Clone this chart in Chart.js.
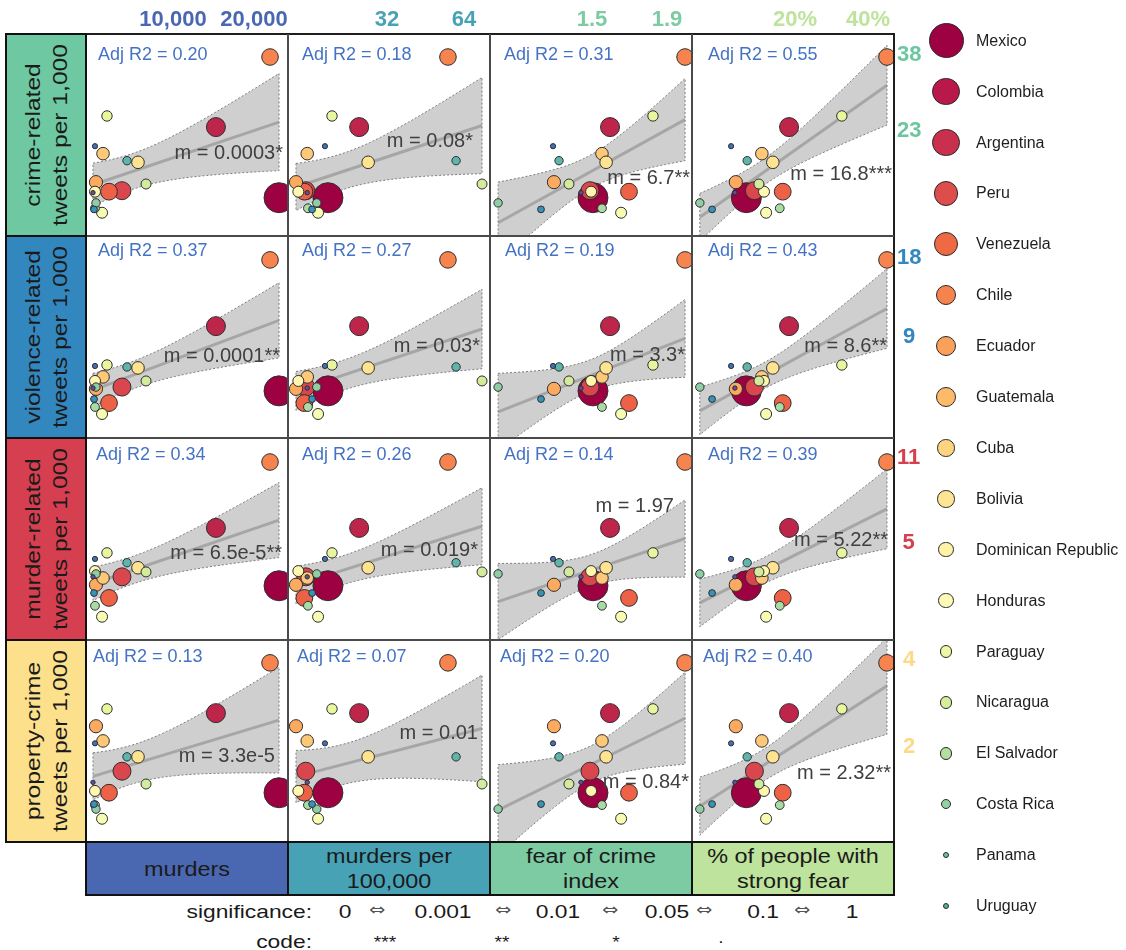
<!DOCTYPE html>
<html lang="en">
<head>
<meta charset="utf-8">
<title>Crime-related tweets and crime indicators in Latin America</title>
<script src="https://cdn.jsdelivr.net/npm/chart.js@4.4.1/dist/chart.umd.min.js"></script>
<style>
  html, body { margin: 0; padding: 0; background: #fff; }
  #fig { position: relative; width: 1126px; height: 950px; overflow: hidden;
         font-family: "Liberation Sans", Arial, Helvetica, sans-serif; color: #1a1a1a; }
  #fig canvas { position: absolute; }
  #fig div { position: absolute; box-sizing: border-box; white-space: nowrap; }
</style>
</head>
<body>
<div id="fig"></div>
<script>
// ---- data: one entry per country ----
const countries = ["Mexico", "Colombia", "Argentina", "Peru", "Venezuela", "Chile", "Ecuador",
  "Guatemala", "Cuba", "Bolivia", "Dominican Republic", "Honduras", "Paraguay", "Nicaragua",
  "El Salvador", "Costa Rica", "Panama", "Uruguay"];

// predictors (columns)
const murders        = [23090, 15300, 3700, 2100, 21980, 490, 1360, 5680, 370, 1240, 1850, 6670, 370, 490, 4320, 250, 370, 120];
const murdersPer100k = [18.8, 24.9, 15.4, 15.2, 55.4, 14.1, 15.6, 27.0, 14.4, 17.2, 19.5, 75.3, 15.7, 17.0, 59.6, 16.3, 18.3, 15.6];
const fearIndex      = [1.505, 1.596, 1.489, 1.697, 1.996, 1.297, 1.553, 1.575, 1.495, 1.655, 1.825, 1.377, 1.553, 0.999, 1.324, 1.228, 1.292, 1.441];
const strongFearPct  = [12.6, 18.9, 13.6, 17.8, 47.9, 11.4, 14.6, 16.2, 14.9, 15.2, 31.2, 14.2, 17.3, 8.1, 12.7, 9.1, 10.9, 11.3];

// responses (rows), tweets per 1,000
const crimeTweets    = [14.8, 23.6, 15.5, 15.4, 37.5, 16.4, 19.8, 18.7, 15.4, 13.4, 25.4, 16.2, 13.8, 14.3, 18.9, 13.7, 20.8, 15.3];
const violenceTweets = [5.61, 9.9, 5.80, 5.04, 17.7, 5.71, 6.34, 6.86, 6.12, 4.58, 7.04, 6.12, 4.87, 5.80, 6.92, 5.22, 6.98, 5.75];
const murderTweets   = [3.36, 5.75, 3.65, 3.00, 10.6, 3.39, 3.61, 3.97, 3.85, 2.52, 4.56, 3.82, 2.79, 3.75, 4.16, 3.14, 4.31, 3.65];
const propertyTweets = [1.39, 2.62, 1.65, 1.39, 3.91, 2.36, 2.10, 1.85, 1.41, 1.13, 2.71, 1.49, 1.26, 1.22, 1.85, 1.27, 2.06, 1.51];

// model summaries printed in each panel [row][col]
const adjR2 = [["0.20", "0.18", "0.31", "0.55"],
               ["0.37", "0.27", "0.19", "0.43"],
               ["0.34", "0.26", "0.14", "0.39"],
               ["0.13", "0.07", "0.20", "0.40"]];
const slopes = [["0.0003*", "0.08*", "6.7**", "16.8***"],
                ["0.0001**", "0.03*", "3.3*", "8.6**"],
                ["6.5e-5**", "0.019*", "1.97", "5.22**"],
                ["3.3e-5", "0.01", "0.84*", "2.32**"]];

// axis ticks
const colTicks = [[10000, 20000], [32, 64], [1.5, 1.9], [20, 40]];
const colTickLabels = [["10,000", "20,000"], ["32", "64"], ["1.5", "1.9"], ["20%", "40%"]];
const rowTicks = [[23, 38], [9, 18], [5, 11], [2, 4]];
const rowTickLabels = [["23", "38"], ["9", "18"], ["5", "11"], ["2", "4"]];

const predictorNames = [["murders"], ["murders per", "100,000"], ["fear of crime", "index"], ["% of people with", "strong fear"]];
const responseNames = [["crime-related", "tweets per 1,000"], ["violence-related", "tweets per 1,000"],
                       ["murder-related", "tweets per 1,000"], ["property-crime", "tweets per 1,000"]];

const sigLevels = ["0", "⇔", "0.001", "⇔", "0.01", "⇔", "0.05", "⇔", "0.1", "⇔", "1"];
const sigCodes = ["***", "**", "*", "."];

// ---- styles ----
const pointColors = ["#9e0142", "#be254a", "#da464d", "#ed6246", "#f7844e", "#fcaa5f", "#fdc877", "#fee491",
  "#fff6af", "#f8fcb3", "#e9f69e", "#d4eb9e", "#a9dca4", "#8fcda5", "#5eb5ab", "#3892b9", "#4470b2", "#5e4fa2"];
const pointRadii = [15, 9.5, 9, 8.4, 8.3, 6.6, 6.3, 6.3, 5.5, 5.5, 5.2, 5, 4.4, 4.2, 4.2, 3.4, 2.6, 2.2];
const legendColors = ["#9e0142", "#b8194a", "#c9304d", "#dc4d4c", "#ee6a45", "#f6834d", "#faa05a", "#fdba69",
  "#fed480", "#fee593", "#fff3a8", "#fcfab6", "#eef7a5", "#d6ee9b", "#b4df9f", "#90d2a1", "#6dc3a4", "#54b19f"];
const legendRadii = [17.5, 13.8, 13.7, 12.2, 12.2, 10, 10, 10, 8.8, 8.8, 7.8, 7.8, 6.3, 6.3, 6.3, 5, 3.4, 3.4];

const colColors = ["#4a68b1", "#48a2b6", "#7dcba2", "#bee39c"];
const rowColors = ["#6ec8a1", "#3387bf", "#d53f50", "#fde08c"];
const rowTickColors = ["#6cc6a0", "#3387c0", "#d5404f", "#fdd886"];

// axis ranges of each column / row
const xAxes = [
  { type: "linear", min: -741, max: 24198 },
  { type: "logarithmic", min: 13.12, max: 80.9 },
  { type: "linear", min: 0.956, max: 2.033 },
  { type: "logarithmic", min: 7.52, max: 51.2 }
];
const yAxes = [
  { min: 11.49, max: 43.66 },
  { min: 3.71, max: 21.83 },
  { min: 2.03, max: 13.25 },
  { min: 0.939, max: 4.69 }
];

// ---- layout ----
const W = 202, GL = 86, GT = 34;
const colLeft = c => GL + c * W;
const rowTop = r => GT + r * W;
const r2Offset = [[[12, 20], [14, 20], [14, 20], [16, 20]],
                  [[12, 14], [14, 14], [15, 14], [16, 14]],
                  [[10, 16], [14, 16], [14, 16], [16, 16]],
                  [[7, 16], [9, 16], [10, 16], [11, 16]]];
const slopeOffset = [[[197, 118], [185, 106], [200, 143], [200, 139]],
                     [[194, 119], [192, 109], [195, 118], [195, 109]],
                     [[196, 114], [190, 111], [184, 67], [196, 101]],
                     [[189, 115], [190, 92], [199, 141], [199, 132]]];
const rowTickPad = [3, 3, 3, 9];

const predictors = [murders, murdersPer100k, fearIndex, strongFearPct];
const responses = [crimeTweets, violenceTweets, murderTweets, propertyTweets];

Chart.defaults.font.family = '"Liberation Sans", Arial, sans-serif';

const fig = document.getElementById("fig");
function add(css, text) {
  const e = document.createElement("div");
  Object.assign(e.style, css);
  if (text !== undefined) e.textContent = text;
  fig.appendChild(e);
  return e;
}
const P = v => v + "px";

// least-squares line and 95% confidence band, computed on the plotted scales
function fitBand(xs, ys, xLog, yLog) {
  const fx = v => (xLog ? Math.log10(v) : v), ix = v => (xLog ? Math.pow(10, v) : v);
  const fy = v => (yLog ? Math.log10(v) : v), iy = v => (yLog ? Math.pow(10, v) : v);
  const X = xs.map(fx), Y = ys.map(fy), n = X.length;
  const mx = X.reduce((a, b) => a + b, 0) / n, my = Y.reduce((a, b) => a + b, 0) / n;
  let sxx = 0, sxy = 0;
  for (let i = 0; i < n; i++) { sxx += (X[i] - mx) ** 2; sxy += (X[i] - mx) * (Y[i] - my); }
  const b = sxy / sxx, a = my - b * mx;
  let sse = 0;
  for (let i = 0; i < n; i++) sse += (Y[i] - a - b * X[i]) ** 2;
  const s = Math.sqrt(sse / (n - 2));
  const t = 2.1199; // t(0.975, 16)
  const lo = Math.min(...X), hi = Math.max(...X);
  const upper = [], lower = [], steps = 48;
  for (let k = 0; k <= steps; k++) {
    const x = lo + (hi - lo) * k / steps;
    const yh = a + b * x;
    const hw = t * s * Math.sqrt(1 / n + (x - mx) ** 2 / sxx);
    upper.push({ x: ix(x), y: iy(yh + hw) });
    lower.push({ x: ix(x), y: iy(yh - hw) });
  }
  const band = upper.concat(lower.reverse());
  band.push(band[0]);
  return { band, line: [{ x: ix(lo), y: iy(a + b * lo) }, { x: ix(hi), y: iy(a + b * hi) }] };
}

function buildPanel(r, c) {
  const isTop = r === 0, isRight = c === 3;
  const side = isTop ? 16 : 0;
  const axisH = isTop ? GT : 0;
  const axisW = isRight ? 44 : 0;
  const w = side + W + axisW + side, h = axisH + W;
  const cv = document.createElement("canvas");
  cv.width = w; cv.height = h;
  cv.style.left = P(colLeft(c) - side); cv.style.top = P(rowTop(r) - axisH);
  cv.style.width = P(w); cv.style.height = P(h);
  fig.appendChild(cv);

  const xs = predictors[c], ys = responses[r];
  const f = fitBand(xs, ys, xAxes[c].type === "logarithmic", true);

  new Chart(cv, {
    type: "scatter",
    data: {
      datasets: [
        { type: "scatter", data: xs.map((x, i) => ({ x, y: ys[i] })),
          pointRadius: pointRadii, pointHoverRadius: pointRadii, pointBackgroundColor: pointColors,
          pointBorderColor: "#2e2e2e", pointBorderWidth: 1, clip: 0 },
        { type: "line", data: f.line, borderColor: "rgba(140,140,140,0.6)", borderWidth: 3,
          pointRadius: 0, fill: false, clip: 0 },
        { type: "line", data: f.band, borderColor: "#7d7d7d", borderWidth: 1, borderDash: [2, 2],
          backgroundColor: "rgba(155,155,155,0.48)", pointRadius: 0, fill: "shape", tension: 0, clip: 0 }
      ]
    },
    options: {
      responsive: false, animation: false, events: [], devicePixelRatio: 1,
      layout: { autoPadding: false, padding: { left: side, right: side, top: 0, bottom: 0 } },
      plugins: { legend: { display: false }, tooltip: { enabled: false } },
      scales: {
        x: {
          type: xAxes[c].type, min: xAxes[c].min, max: xAxes[c].max, bounds: "data",
          position: "top", display: isTop,
          grid: { display: false, drawTicks: false }, border: { display: false },
          afterBuildTicks: s => { s.ticks = colTicks[c].map(v => ({ value: v })); },
          ticks: { autoSkip: false, maxRotation: 0, minRotation: 0, padding: 1,
                   color: colColors[c], font: { size: 22, weight: "bold" },
                   callback: (v, i) => colTickLabels[c][i] },
          afterFit: s => { if (isTop) { s.height = GT; s.paddingLeft = 0; s.paddingRight = 0; } }
        },
        y: {
          type: "logarithmic", min: yAxes[r].min, max: yAxes[r].max, bounds: "data",
          position: "right", display: isRight,
          grid: { display: false, drawTicks: false }, border: { display: false },
          afterBuildTicks: s => { s.ticks = rowTicks[r].map(v => ({ value: v })); },
          ticks: { autoSkip: false, padding: rowTickPad[r], crossAlign: "center",
                   color: rowTickColors[r], font: { size: 22, weight: "bold" },
                   callback: (v, i) => rowTickLabels[r][i] },
          afterFit: s => { if (isRight) { s.width = axisW; s.paddingTop = 0; s.paddingBottom = 0; } }
        }
      }
    }
  });
}

for (let r = 0; r < 4; r++) for (let c = 0; c < 4; c++) buildPanel(r, c);

// panel frame
add({ left: P(85), top: P(33), width: P(810), height: P(810), border: "2px solid #1e1e1e" });
for (let k = 1; k < 4; k++) {
  add({ left: P(colLeft(k) - 1), top: P(34), width: P(2), height: P(808), background: "#4a4a4a" });
  add({ left: P(86), top: P(rowTop(k) - 1), width: P(808), height: P(2), background: "#4a4a4a" });
}

// row strips
responseNames.forEach((lines, r) => {
  add({ left: P(6), top: P(rowTop(r)), width: P(80), height: P(W), background: rowColors[r] });
  const t = add({ left: P(46), top: P(rowTop(r) + 101), transform: "translate(-50%,-50%) rotate(-90deg) scaleX(1.2)",
                  textAlign: "center", fontSize: "20.5px", lineHeight: "27px", color: "#1a1a1a" });
  lines.forEach(s => { const d = document.createElement("div"); d.style.position = "static"; d.textContent = s; t.appendChild(d); });
});
add({ left: P(5), top: P(33), width: P(82), height: P(810), border: "2px solid #111" });
for (let k = 1; k < 4; k++) add({ left: P(6), top: P(rowTop(k) - 1), width: P(80), height: P(2), background: "#111" });

// column strips
predictorNames.forEach((lines, c) => {
  add({ left: P(colLeft(c)), top: P(842), width: P(W), height: P(53), background: colColors[c] });
  const t = add({ left: P(colLeft(c) + 101), top: P(868.5), transform: "translate(-50%,-50%) scaleX(1.2)",
                  textAlign: "center", fontSize: "19.5px", lineHeight: "25px", color: "#1a1a1a" });
  lines.forEach(s => { const d = document.createElement("div"); d.style.position = "static"; d.textContent = s; t.appendChild(d); });
});
add({ left: P(85), top: P(841), width: P(810), height: P(55), border: "2px solid #111" });
for (let k = 1; k < 4; k++) add({ left: P(colLeft(k) - 1), top: P(842), width: P(2), height: P(53), background: "#111" });

// panel annotations
for (let r = 0; r < 4; r++) for (let c = 0; c < 4; c++) {
  const [ox, oy] = r2Offset[r][c];
  add({ left: P(colLeft(c) + ox), top: P(rowTop(r) + oy), transform: "translateY(-50%)",
        fontSize: "18px", lineHeight: "1", color: "#4472c4" }, "Adj R2 = " + adjR2[r][c]);
  const [sx, sy] = slopeOffset[r][c];
  add({ left: P(colLeft(c) + sx), top: P(rowTop(r) + sy), transform: "translate(-100%,-50%)",
        fontSize: "20px", lineHeight: "1", color: "#404040" }, "m = " + slopes[r][c]);
}

// country legend
countries.forEach((name, i) => {
  const cy = 40.7 + i * 50.9, rr = legendRadii[i];
  add({ left: P(946 - rr), top: P(cy - rr), width: P(2 * rr), height: P(2 * rr), borderRadius: "50%",
        background: legendColors[i], border: "1.3px solid #2a2a2a" });
  add({ left: P(976), top: P(cy), transform: "translateY(-50%)", fontSize: "16px", lineHeight: "1", color: "#1e1e1e" }, name);
});

// significance key
const sigX = [345, 377, 443, 503, 558, 610, 667, 704, 763, 802, 852];
const codeX = [385, 502, 616, 721];
add({ left: P(312), top: P(911), transform: "translate(-100%,-50%) scaleX(1.2)", transformOrigin: "right center",
      fontSize: "19px", lineHeight: "1" }, "significance:");
sigLevels.forEach((s, i) => {
  const arrow = s === "⇔";
  add({ left: P(sigX[i]), top: P(arrow ? 910 : 911), transform: "translate(-50%,-50%) scaleX(1.2)",
        fontSize: arrow ? "16px" : "19px", lineHeight: "1", color: arrow ? "#555" : "#1a1a1a",
        fontFamily: arrow ? '"DejaVu Sans", sans-serif' : "" }, s);
});
add({ left: P(312), top: P(941), transform: "translate(-100%,-50%) scaleX(1.2)", transformOrigin: "right center",
      fontSize: "19px", lineHeight: "1" }, "code:");
sigCodes.forEach((s, i) => {
  add({ left: P(codeX[i]), top: P(s === "." ? 938 : 943), transform: "translate(-50%,-50%) scaleX(1.2)",
        fontSize: "16px", lineHeight: "1" }, s);
});
</script>
</body>
</html>
